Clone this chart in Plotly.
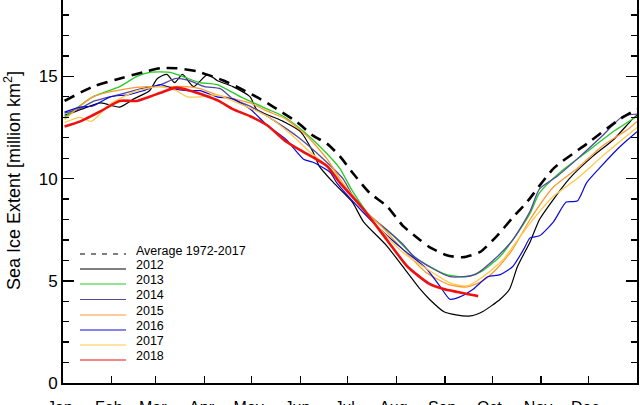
import plotly.graph_objects as go

# ---------------- data (day of year, extent in million km^2) ----------------
avg_days = [1, 19, 34, 51, 62, 72, 85, 95, 102, 113, 123, 134, 149, 159, 168, 176, 184, 195, 206, 216, 227, 233, 244, 254, 265, 276, 286, 295, 312, 333, 354, 365]
avg_vals = [13.8, 14.5, 14.85, 15.2, 15.4, 15.4, 15.25, 15.0, 14.8, 14.4, 14.0, 13.5, 12.75, 12.1, 11.7, 11.1, 10.3, 9.3, 8.65, 7.7, 7.0, 6.65, 6.25, 6.15, 6.4, 7.2, 8.1, 8.85, 10.5, 11.7, 12.9, 13.4]

d2012 = [1, 12, 24, 36, 45, 55, 60, 66, 71, 76, 83, 92, 98, 108, 119, 123, 140, 151, 159, 163, 172, 184, 191, 206, 216, 227, 233, 242, 250, 259, 267, 278, 284, 289, 297, 303, 312, 322, 337, 350, 362, 365]
v2012 = [13.1, 13.4, 13.7, 13.5, 13.9, 14.3, 14.9, 15.1, 14.7, 15.1, 14.5, 15.1, 14.8, 14.5, 14.0, 13.4, 12.8, 12.3, 11.3, 10.6, 9.8, 8.85, 7.9, 6.7, 5.7, 4.6, 4.1, 3.5, 3.33, 3.28, 3.5, 4.1, 4.6, 5.7, 6.9, 8.0, 9.0, 10.0, 11.1, 11.9, 12.9, 13.1]

d2013 = [1, 19, 36, 47, 55, 68, 76, 87, 98, 113, 130, 140, 153, 168, 176, 184, 195, 210, 223, 231, 244, 257, 267, 278, 286, 297, 303, 316, 333, 350, 365]
v2013 = [13.0, 14.0, 14.5, 15.0, 15.2, 15.2, 15.0, 14.7, 14.6, 14.0, 13.4, 13.05, 12.3, 11.2, 10.5, 9.4, 8.2, 7.2, 6.2, 5.8, 5.3, 5.2, 5.5, 6.2, 7.0, 8.3, 9.3, 10.3, 11.3, 12.3, 13.05]

d2014 = [1, 10, 20, 35, 50, 62, 72, 80, 90, 100, 108, 120, 135, 150, 165, 178, 184, 195, 206, 216, 223, 235, 246, 255, 262, 275, 286, 297, 303, 314, 329, 343, 356, 365]
v2014 = [13.2, 13.4, 13.8, 14.1, 14.4, 14.6, 14.9, 14.8, 14.5, 14.4, 13.9, 13.5, 12.8, 12.0, 11.0, 10.0, 9.2, 8.2, 7.5, 6.8, 6.2, 5.6, 5.2, 5.2, 5.3, 6.1, 7.0, 8.4, 9.5, 10.1, 11.1, 12.1, 13.05, 13.15]

d2015 = [1, 19, 41, 53, 66, 79, 87, 98, 119, 130, 142, 155, 168, 176, 189, 202, 216, 231, 246, 257, 267, 276, 286, 297, 312, 327, 343, 359, 365]
v2015 = [12.9, 14.0, 14.4, 14.5, 14.5, 14.5, 14.4, 14.1, 13.7, 13.3, 12.9, 12.1, 10.95, 10.0, 8.65, 7.7, 6.55, 5.4, 4.8, 4.7, 5.0, 5.6, 6.55, 8.0, 9.6, 10.5, 11.6, 12.4, 12.8]

d2016 = [1, 11, 19, 30, 41, 51, 62, 70, 79, 87, 98, 108, 119, 130, 142, 153, 159, 170, 174, 189, 202, 216, 231, 240, 246, 252, 261, 270, 278, 286, 293, 297, 303, 312, 320, 327, 333, 341, 352, 359, 365]
v2016 = [13.25, 13.5, 13.55, 14.0, 14.1, 14.3, 14.6, 14.4, 14.3, 14.3, 14.0, 13.9, 13.4, 12.6, 11.9, 10.95, 10.8, 10.3, 9.8, 8.5, 7.5, 6.55, 5.6, 4.7, 4.1, 4.2, 4.6, 5.2, 5.3, 5.7, 6.55, 7.1, 7.2, 7.9, 8.85, 8.9, 9.8, 10.5, 11.4, 11.9, 12.3]

d2017 = [1, 11, 18, 30, 47, 62, 72, 79, 87, 98, 108, 130, 146, 157, 170, 189, 202, 216, 231, 246, 257, 267, 280, 291, 301, 312, 327, 343, 354, 365]
v2017 = [12.75, 13.0, 12.8, 13.65, 14.3, 14.5, 14.3, 14.0, 14.0, 14.1, 13.8, 13.05, 12.1, 11.3, 10.5, 8.7, 7.5, 6.4, 5.6, 4.9, 4.75, 5.2, 6.05, 7.2, 8.2, 9.15, 10.0, 11.1, 11.8, 12.5]

d2018 = [1, 11, 24, 36, 47, 55, 62, 72, 81, 89, 99, 108, 119, 130, 142, 153, 168, 176, 191, 206, 219, 233, 242, 251, 257, 264]
v2018 = [12.55, 12.8, 13.3, 13.8, 13.8, 14.0, 14.2, 14.45, 14.3, 14.1, 13.8, 13.4, 13.05, 12.6, 11.8, 11.3, 10.6, 9.8, 8.5, 7.0, 5.7, 4.85, 4.6, 4.45, 4.35, 4.25]

month_starts = [0, 31, 59, 90, 120, 151, 181, 212, 243, 273, 304, 334]
month_labels = ["Jan", "Feb", "Mar", "Apr", "May", "Jun", "Jul", "Aug", "Sep", "Oct", "Nov", "Dec"]
y_ticks = [0, 5, 10, 15, 20]

series = [
    ("Average 1972-2017", avg_days, avg_vals, "#000000", 2.6, "11px,7px"),
    ("2012", d2012, v2012, "#000000", 1.2, "solid"),
    ("2013", d2013, v2013, "#22cc22", 1.3, "solid"),
    ("2014", d2014, v2014, "#55479e", 1.3, "solid"),
    ("2015", d2015, v2015, "#ff9a30", 1.3, "solid"),
    ("2016", d2016, v2016, "#0a0ad8", 1.2, "solid"),
    ("2017", d2017, v2017, "#ffc84a", 1.3, "solid"),
    ("2018", d2018, v2018, "#ee1111", 2.6, "solid"),
]

fig = go.Figure()
order = [1, 2, 3, 4, 5, 6, 0, 7]
for i in order:
    name, xs, ys, col, w, dash = series[i]
    fig.add_trace(go.Scatter(x=xs, y=ys, mode="lines", name=name,
                             line=dict(color=col, width=w, dash=dash, shape="spline", smoothing=0.6),
                             showlegend=False, hoverinfo="skip"))

PLOT_TOP = 0
PLOT_BOTTOM = 383
H = PLOT_BOTTOM - PLOT_TOP

def py2paper(py):
    return (PLOT_BOTTOM - py) / H

# custom legend (IDL style)
text_rows = [251, 265, 280, 295, 310.5, 325.5, 340.5, 355.5]
line_rows = [254, 269, 284, 299.5, 315, 330, 345, 360]
for (name, xs, ys, col, w, dash), ty, ly in zip(series, text_rows, line_rows):
    fig.add_shape(type="line", xref="paper", yref="paper",
                  x0=(80 - 63) / 574, x1=(126 - 63) / 574,
                  y0=py2paper(ly), y1=py2paper(ly),
                  line=dict(color=col, width=1.2, dash="5px,6px" if dash != "solid" else "solid"))
    fig.add_annotation(xref="paper", yref="paper", x=(134 - 63) / 574, y=py2paper(ty),
                       text=name, showarrow=False, xanchor="left", yanchor="middle",
                       font=dict(family="Liberation Sans, Arial, sans-serif", size=12.5, color="#000"))

fig.add_annotation(xref="paper", yref="paper", x=(12 - 63) / 574, y=py2paper(181),
                   text="Sea Ice Extent [million km<sup>2</sup>]", showarrow=False, textangle=-90,
                   xanchor="center", yanchor="middle",
                   font=dict(family="Liberation Sans, Arial, sans-serif", size=18, color="#000"))

fig.update_layout(
    width=640, height=405,
    margin=dict(l=63, r=3, t=0, b=22, autoexpand=False),
    paper_bgcolor="white", plot_bgcolor="white",
    showlegend=False,
    font=dict(family="Liberation Sans, Arial, sans-serif", size=16, color="#000"),
)
fig.update_xaxes(range=[0, 365], tickvals=month_starts, ticktext=month_labels,
                 ticks="inside", ticklen=7, tickwidth=1.3, tickcolor="#000",
                 ticklabelstandoff=9, ticklabelshift=-3, automargin=False,
                 showline=True, linewidth=2, linecolor="#000", mirror=False,
                 showgrid=False, zeroline=False, tickfont=dict(size=16))
fig.update_yaxes(range=[0, 383 / 20.44], tickvals=y_ticks, automargin=False,
                 ticks="inside", ticklen=11, tickwidth=1.6, tickcolor="#000",
                 minor=dict(dtick=1, ticks="inside", ticklen=6, tickwidth=1.3, tickcolor="#000", showgrid=False),
                 showline=True, linewidth=2, linecolor="#000", mirror="ticks",
                 showgrid=False, zeroline=False, tickfont=dict(size=17))

fig.write_html("out.html", config={"displayModeBar": False, "staticPlot": True},
               post_script="document.body.style.margin='0';document.body.style.overflow='hidden';")
